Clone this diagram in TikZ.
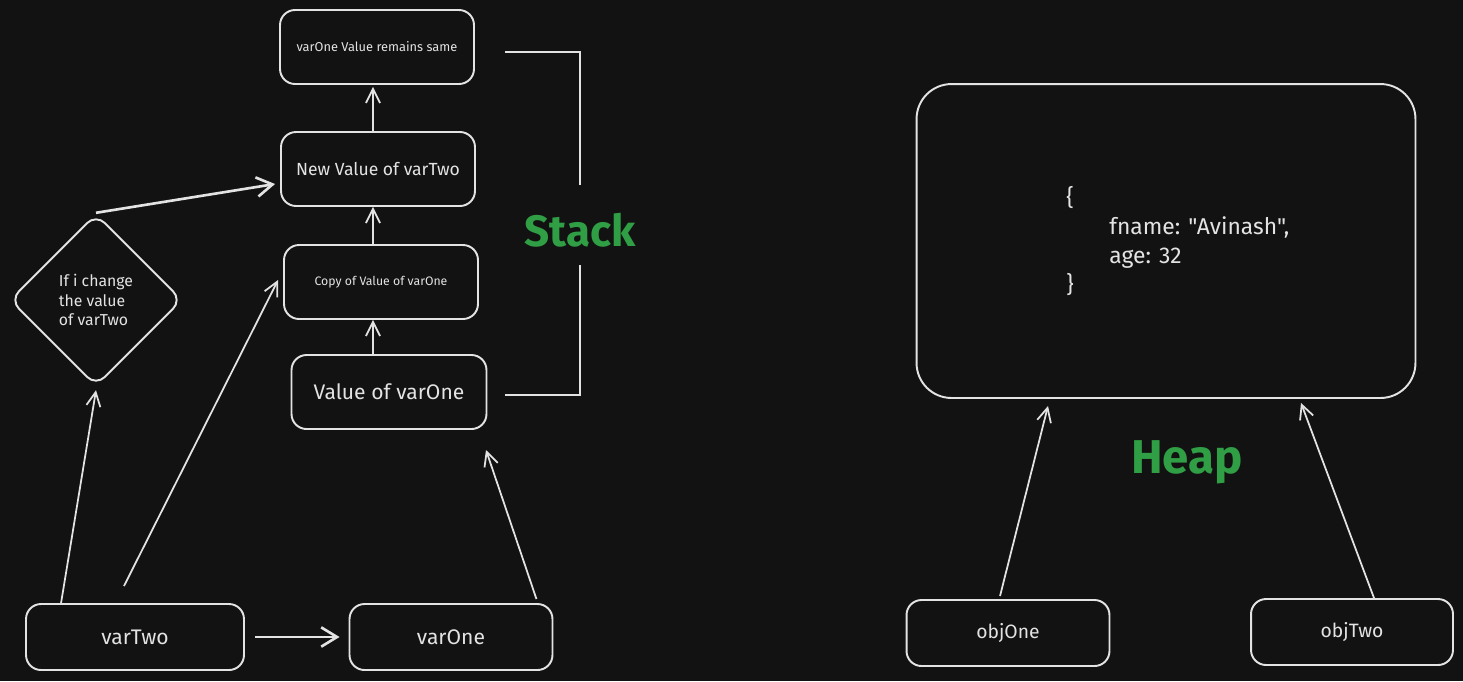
\documentclass[tikz,border=0pt]{standalone}
\usepackage{fontspec}
\setmainfont{Fira Sans}
\usetikzlibrary{arrows.meta,shapes.geometric,calc}
\definecolor{bgdark}{HTML}{121212}
\definecolor{inkw}{HTML}{E3E3E3}
\definecolor{labgreen}{HTML}{2F9E44}

\begin{document}
\begin{tikzpicture}[x=0.02cm,y=-0.02cm,
    box/.style={draw=inkw,line width=1.1pt,rounded corners=0.3cm,text=inkw,minimum height=1.48cm,inner sep=2pt},
    link/.style={draw=inkw,line width=1pt,-{Straight Barb[length=8pt,width=8pt]}},
    biglink/.style={draw=inkw,line width=1.5pt,-{Straight Barb[length=9pt,width=11pt]}},
    tag/.style={text=labgreen,font=\fontsize{25}{28}\selectfont\bfseries}]

    % 背景
    \useasboundingbox (0,0) rectangle (1463,681);
    \fill[bgdark] (0,0) rectangle (1463,681);

    % 栈
    \node[box,minimum width=3.88cm,font=\fontsize{7.3}{9}\selectfont] (remain) at (377,47) {varOne Value remains same};
    \node[box,minimum width=3.88cm,font=\fontsize{10}{12}\selectfont] (newtwo) at (378,169) {New Value of varTwo};
    \node[box,minimum width=3.88cm,font=\fontsize{7}{9}\selectfont] (copyone) at (381,282) {Copy of Value of varOne};
    \node[box,minimum width=3.9cm,font=\fontsize{12}{14}\selectfont] (valone) at (389,392) {Value of varOne};
    \node[diamond,draw=inkw,line width=1.1pt,rounded corners=0.25cm,minimum width=3.45cm,minimum height=3.45cm,
          text=inkw,align=left,font=\fontsize{9}{11}\selectfont] (ifchg) at (96,300) {If i change\\the value\\of varTwo};
    \node[tag] (stk) at (580,230) {Stack};

    % 变量
    \node[box,minimum width=4.36cm,minimum height=1.32cm,font=\fontsize{12}{14}\selectfont] (vtwo) at (135,637) {varTwo};
    \node[box,minimum width=4.06cm,minimum height=1.32cm,font=\fontsize{12}{14}\selectfont] (vone) at (451,637) {varOne};

    % 堆
    \node[box,rounded corners=0.7cm,minimum width=9.98cm,minimum height=6.28cm] (heapbox) at (1166,241) {};
    \node[text=inkw,align=left,anchor=north west,inner sep=0pt,
          font=\addfontfeatures{Ligatures=TeXOff}\fontsize{13}{16.5}\selectfont] (objtxt) at (1066,186)
        {\{\\\hspace*{0.86cm}fname: "Avinash",\\\hspace*{0.86cm}age: 32\\\}};
    \node[tag,font=\fontsize{27}{30}\selectfont\bfseries] (hp) at (1187,462) {Heap};
    \node[box,minimum width=4.06cm,minimum height=1.32cm,font=\fontsize{11}{13}\selectfont] (oone) at (1008,633) {objOne};
    \node[box,minimum width=4.04cm,minimum height=1.32cm,font=\fontsize{11}{13}\selectfont] (otwo) at (1352,632) {objTwo};

    % 定义点变量
    \coordinate (colx) at (373,0);
    \coordinate (A) at (505,52);
    \coordinate (B) at (580,185);
    \coordinate (C) at (580,265);
    \coordinate (D) at (505,395);
    \coordinate (E) at (124,586);
    \coordinate (F) at (486,450);

    % 括号
    \draw[inkw,line width=1.2pt] (A) -| (B);
    \draw[inkw,line width=1.2pt] (C) |- (D);

    % 使用变量连线
    \draw[link] (valone.north -| colx) -- (copyone.south -| colx);
    \draw[link] (copyone.north -| colx) -- (newtwo.south -| colx);
    \draw[link] (newtwo.north -| colx) -- ([yshift=-0.04cm]remain.south -| colx);
    \draw[biglink] (ifchg.north) -- ($(newtwo.west)+(-5,15)$);
    \draw[link] ($(vtwo.north west)+(36,0)$) -- ($(ifchg.south)+(0,3)$);
    \draw[link] (E) -- ($(copyone.west)+(-5,-2)$);
    \draw[biglink] ($(vtwo.east)+(10,0)$) -- ($(vone.west)+(-9,0)$);
    \draw[link] ($(vone.north east)+(-17,-4)$) -- (F);
    \draw[link] ($(oone.north)+(-8,-3)$) -- ($(heapbox.south)+(-118,7)$);
    \draw[link] ($(otwo.north)+(22,0)$) -- ($(heapbox.south)+(135,4)$);

\end{tikzpicture}
\end{document}
